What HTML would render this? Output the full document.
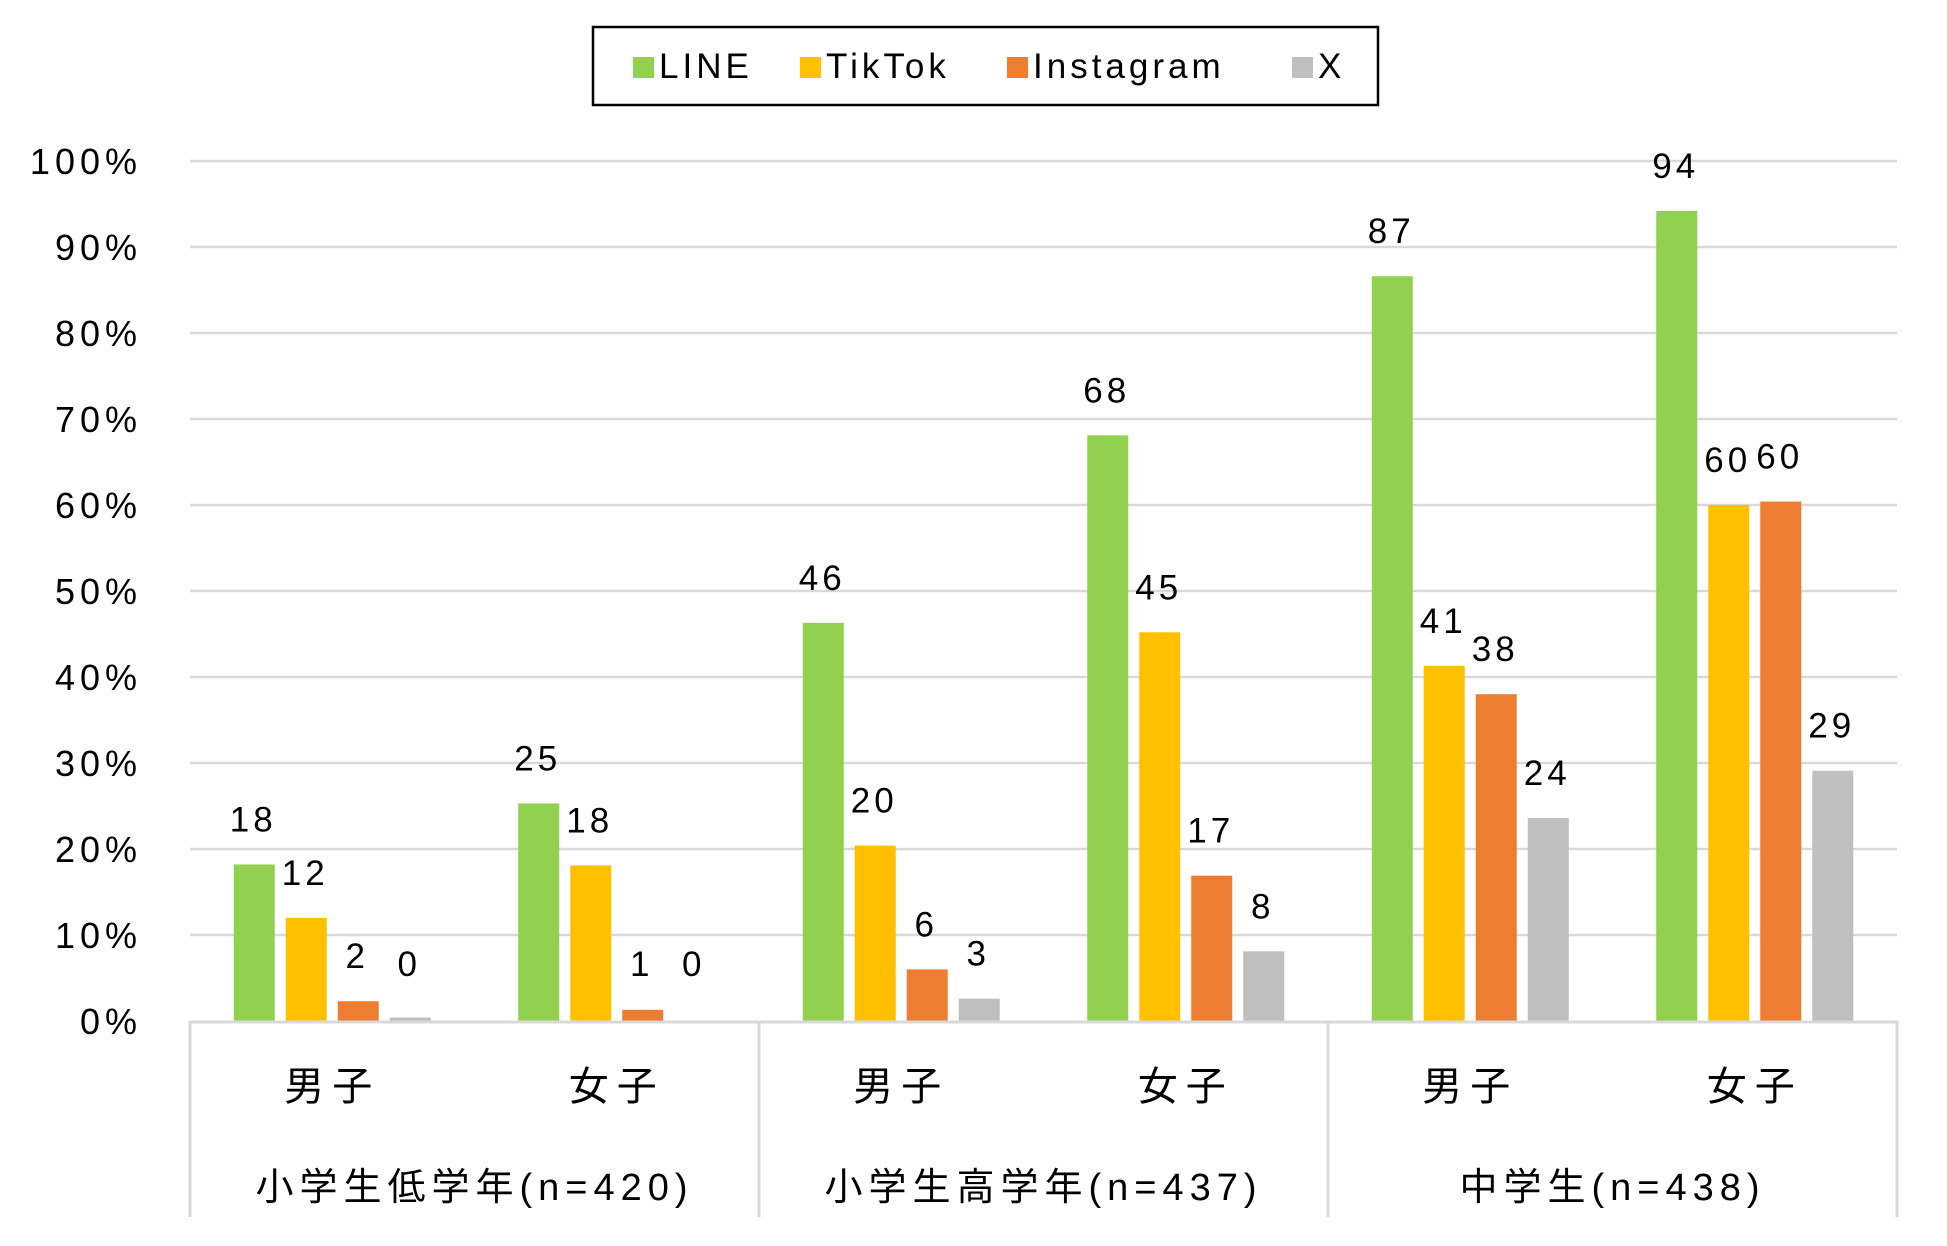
<!DOCTYPE html>
<html><head><meta charset="utf-8">
<style>
html,body{margin:0;padding:0;background:#fff;}
svg text{font-family:"Liberation Sans","Noto Sans CJK JP",sans-serif;fill:#000;}
</style></head>
<body>
<svg id="chart" width="1947" height="1241" viewBox="0 0 1947 1241" xmlns="http://www.w3.org/2000/svg">
<rect x="593" y="27" width="785" height="78" fill="#fff" stroke="#000" stroke-width="2.5"/>
<g id="legend"></g>
<g id="grid"></g>
<g id="bars"></g>
<g id="xaxis"></g>
</svg>
<script>
const groups = ["小学生低学年(n=420)","小学生高学年(n=437)","中学生(n=438)"];
const categories = ["男子","女子","男子","女子","男子","女子"];
const seriesNames = ["LINE","TikTok","Instagram","X"];
const colors = ["#92d050","#ffc000","#ed7d31","#bfbfbf"];
const lineVals = [18.2,25.3,46.3,68.1,86.6,94.2];
const tiktokVals = [12.0,18.1,20.4,45.2,41.3,60.0];
const instaVals = [2.3,1.3,6.0,16.9,38.0,60.4];
const xVals = [0.4,0.0,2.6,8.1,23.6,29.1];
const yTicks = [0,10,20,30,40,50,60,70,80,90,100];

const NS="http://www.w3.org/2000/svg";
const x0=190, x1=1897, y0=1021, yTop=161;
const yScale=v=>y0-(v/100)*(y0-yTop);
const catW=(x1-x0)/categories.length;
const barW=41, barStep=52;
function mk(tag,attrs,parent){const e=document.createElementNS(NS,tag);for(const k in attrs)e.setAttribute(k,attrs[k]);parent.appendChild(e);return e;}
const grid=document.getElementById('grid'),bars=document.getElementById('bars'),xa=document.getElementById('xaxis'),lg=document.getElementById('legend');

yTicks.forEach(t=>{
  const y=yScale(t);
  if(t>0){const l=mk('line',{x1:x0,x2:x1,y1:y,y2:y,stroke:'#d9d9d9','stroke-width':2.5},grid);
  
  }
  const tx=mk('text',{x:142,y:y+13,'text-anchor':'end','font-size':36,'letter-spacing':5},grid);
  tx.textContent=t+'%';
  
  
});

const all=[lineVals,tiktokVals,instaVals,xVals];
all.forEach((vals,s)=>{
  vals.forEach((v,i)=>{
    const cx=x0+catW*(i+0.5);
    const bx=cx-(4*barW+3*(barStep-barW))/2+s*barStep;
    const by=yScale(v);
    const r=mk('rect',{x:bx,y:by,width:barW,height:y0-by,fill:colors[s]},bars);
    
    
    const lb=mk('text',{x:bx+barW/2-1,y:Math.min(by-33,y0-45),'text-anchor':'middle','font-size':35,'letter-spacing':4},bars);
    lb.textContent=Math.round(v);
    
    
  });
});

const base=mk('line',{x1:x0,x2:x1,y1:y0+1,y2:y0+1,stroke:'#d9d9d9','stroke-width':3},xa);


for(let g=0;g<=groups.length;g++){
  const x=x0+g*(x1-x0)/groups.length;
  const l=mk('line',{x1:x,x2:x,y1:y0,y2:1217,stroke:'#d9d9d9','stroke-width':3},xa);
  
  
}
categories.forEach((c,i)=>{
  const t=mk('text',{x:x0+catW*(i+0.5),y:1100,'text-anchor':'middle','font-size':40,'letter-spacing':8},xa);
  t.textContent=c;
  
  
});
groups.forEach((g,i)=>{
  const t=mk('text',{x:x0+(x1-x0)/3*(i+0.5),y:1200,'text-anchor':'middle','font-size':38,'letter-spacing':6},xa);
  t.textContent=g;
  
  
});

const legX=[633,800,1007,1292];
seriesNames.forEach((n,s)=>{
  const r=mk('rect',{x:legX[s],y:57,width:21,height:21,fill:colors[s]},lg);
  
  
  const t=mk('text',{x:legX[s]+26,y:78,'font-size':35,'letter-spacing':4},lg);
  t.textContent=n;
  
  
});
</script>
</body></html>
